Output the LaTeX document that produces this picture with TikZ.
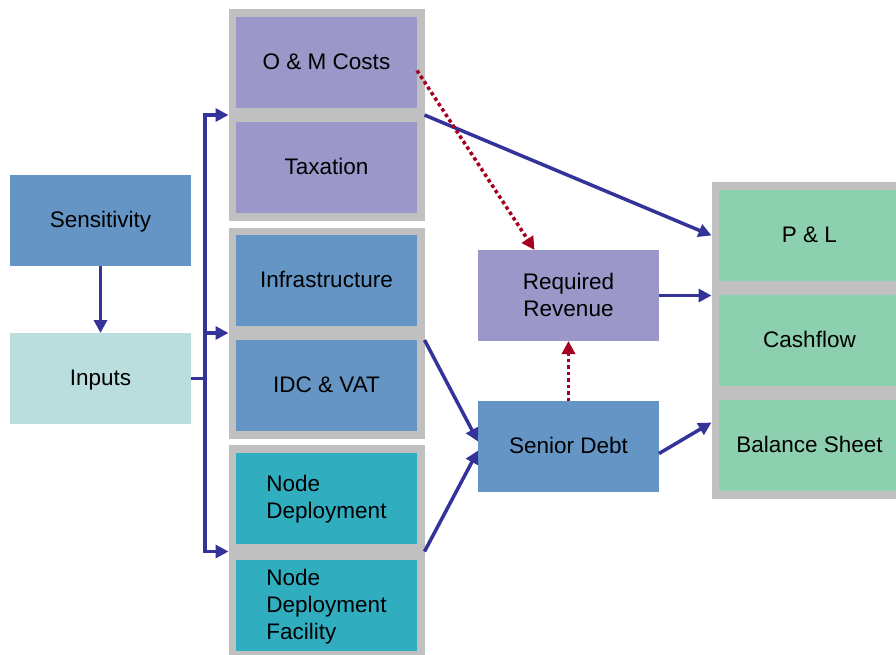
\documentclass[tikz,border=0pt]{standalone}
\usepackage{fontspec}
\setmainfont{Liberation Sans}
\usepackage{tikz}
\usetikzlibrary{positioning,arrows.meta,calc,fit,backgrounds}
\usepackage{xcolor}
\definecolor{finpurple}{RGB}{155,151,200}
\definecolor{finblue}{RGB}{100,149,197}
\definecolor{finpale}{RGB}{186,222,222}
\definecolor{finteal}{RGB}{48,174,192}
\definecolor{fingreen}{RGB}{141,208,176}
\definecolor{fingrey}{RGB}{192,192,192}
\definecolor{finnavy}{RGB}{51,51,153}
\definecolor{finred}{RGB}{165,0,33}

\begin{document}
\begin{tikzpicture}[
    x=1pt, y=-1pt,
    font=\fontsize{22.5}{27}\selectfont,
    box/.style={rectangle, minimum width=181pt, minimum height=91pt, inner sep=0pt, outer sep=0pt, align=center, text depth=2pt},
    group/.style={rectangle, fill=fingrey, inner sep=7.5pt, outer sep=0pt},
    link/.style={draw=finnavy, line width=3.5pt, -{Triangle[length=13pt,width=13pt]}},
    feed/.style={draw=finred, line width=3.5pt, dash pattern=on 3.5pt off 3pt, -{Triangle[length=13pt,width=13pt]}}
]
\useasboundingbox (0,0) rectangle (896,655);

% Input side
\node[box, fill=finblue] (sens) at (100.5,220.5) {Sensitivity};
\node[box, fill=finpale] (inp) at (100.5,378.5) {Inputs};

% Cost and capital blocks
\node[box, fill=finpurple] (om) at (326.5,62.5) {O \& M Costs};
\node[box, fill=finpurple, below=14pt of om] (tax) {Taxation};
\node[box, fill=finblue] (infra) at (326.5,280.5) {Infrastructure};
\node[box, fill=finblue, below=14pt of infra] (idc) {IDC \& VAT};
\node[box, fill=finteal, align=left] (nd) at (326.5,498) {Node\\Deployment};
\node[box, fill=finteal, align=left, below=16pt of nd] (ndf) {Node\\Deployment\\Facility};

% Financing
\node[box, fill=finpurple] (rr) at (568.5,295.5) {Required\\Revenue};
\node[box, fill=finblue] (debt) at (568.5,446.5) {Senior Debt};

% Outputs
\node[box, fill=fingreen] (pl) at (809.5,235.5) {P \& L};
\node[box, fill=fingreen, below=14pt of pl] (cash) {Cashflow};
\node[box, fill=fingreen, below=14pt of cash] (bal) {Balance Sheet};

% Grey frames behind the stacks
\begin{scope}[on background layer]
\node[group, fit=(om)(tax)] (grpcost) {};
\node[group, fit=(infra)(idc)] (grpcap) {};
\node[group, fit=(nd)(ndf)] (grpnode) {};
\node[group, fit=(pl)(bal)] (grpout) {};
\end{scope}

% Input bus
\draw[link] (sens) -- (inp);
\draw[finnavy, line width=3.5pt] (inp.east) -- ++(14,0) coordinate (bus);
\draw[link] (bus) |- (grpcost.west);
\draw[link] (bus) |- (grpcap.west);
\draw[link] (bus) |- (grpnode.west);

% Flows to outputs
\draw[link] (grpcost.east) -- (grpout.west |- pl.west);
\draw[link] (rr.east) -- (rr.east -| grpout.west);
\draw[link] (idc.north -| grpcap.east) -- ([yshift=5pt]debt.west);
\draw[link] (grpnode.east) -- ([yshift=-4pt]debt.west);
\draw[link] ([yshift=-7pt]debt.east) -- ([yshift=23pt]bal.west -| grpout.west);

% Revenue requirement feeds
\draw[feed] ([yshift=-8pt]om.east) -- ([xshift=-34pt]rr.north);
\draw[feed] (debt.north) -- (rr.south);

\end{tikzpicture}
\end{document}
